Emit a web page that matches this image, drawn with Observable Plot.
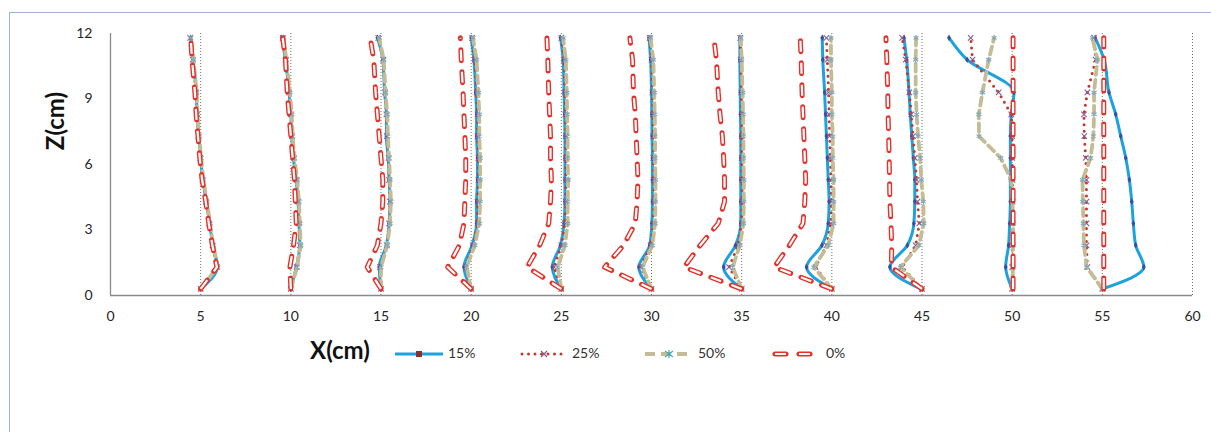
<!DOCTYPE html>
<html><head><meta charset="utf-8">
<script src="https://cdn.jsdelivr.net/npm/d3@7"></script>
<script src="https://cdn.jsdelivr.net/npm/@observablehq/plot@0.6"></script>
<style>
html,body{margin:0;padding:0;background:#fff;overflow:hidden;}
#wrap{position:relative;width:1211px;height:432px;font-family:Lato,"Open Sans",sans-serif;overflow:hidden;}
#frame{position:absolute;left:9px;top:12px;width:1300px;height:500px;border:1px solid #9db3cf;box-sizing:border-box;}
#chart{position:absolute;left:0;top:0;}
#legend{position:absolute;left:0;top:0;pointer-events:none;}
</style></head><body>
<div id="wrap"><div id="frame"></div><div id="chart"></div><svg id="legend" width="1211" height="432"></svg></div>
<script>
// ---- data ----
const zLevels = [0.3, 1.3, 2.3, 3.3, 4.3, 5.3, 6.3, 7.3, 8.3, 9.3, 10.8, 11.8];
const stations = [5, 10, 15, 20, 25, 30, 35, 40, 45, 50, 55];
const xTicks = [0, 5, 10, 15, 20, 25, 30, 35, 40, 45, 50, 55, 60];
const yTicks = [0, 3, 6, 9, 12];
const gridX = [5, 10, 15, 20, 25, 30, 35, 40, 45, 50, 55, 60];
const seriesNames = ["15%", "25%", "50%", "0%"];

// X position of each profile point (one row per station, bottom to top)
const p15 = [
  [5.0, 5.92, 5.68, 5.49, 5.32, 5.12, 5.0, 4.9, 4.8, 4.76, 4.58, 4.44],
  [10.0, 10.3, 10.5, 10.45, 10.4, 10.3, 10.14, 10.05, 10.0, 9.9, 9.7, 9.5],
  [15.0, 14.9, 15.3, 15.45, 15.5, 15.45, 15.4, 15.3, 15.3, 15.2, 15.1, 14.8],
  [20.0, 19.6, 20.05, 20.3, 20.3, 20.35, 20.35, 20.3, 20.3, 20.25, 20.15, 20.0],
  [25.0, 24.5, 24.95, 25.15, 25.2, 25.2, 25.2, 25.2, 25.18, 25.15, 25.1, 24.95],
  [30.0, 29.3, 29.9, 30.02, 30.05, 30.05, 30.05, 30.03, 30.02, 30.0, 29.95, 29.86],
  [35.0, 34.0, 34.66, 34.95, 34.95, 34.95, 34.95, 34.95, 34.93, 34.92, 34.9, 34.9],
  [40.0, 38.6, 39.45, 39.8, 39.85, 39.8, 39.75, 39.7, 39.65, 39.6, 39.5, 39.47],
  [44.93, 43.22, 44.19, 44.55, 44.6, 44.6, 44.52, 44.43, 44.35, 44.28, 44.15, 44.0],
  [50.0, 49.64, 49.8, 49.86, 49.9, 49.9, 49.9, 49.9, 49.95, 50.1, 47.5, 46.5],
  [55.0, 57.3, 56.85, 56.72, 56.63, 56.5, 56.3, 56.02, 55.74, 55.37, 55.1, 54.6]
];
const p25 = [
  [5.0, 5.9, 5.66, 5.48, 5.3, 5.1, 4.98, 4.88, 4.8, 4.74, 4.56, 4.42],
  [10.0, 10.32, 10.5, 10.45, 10.42, 10.32, 10.16, 10.06, 10.0, 9.9, 9.72, 9.55],
  [15.0, 14.95, 15.32, 15.45, 15.5, 15.45, 15.42, 15.32, 15.3, 15.22, 15.12, 14.85],
  [20.0, 19.7, 20.1, 20.35, 20.35, 20.4, 20.4, 20.35, 20.35, 20.3, 20.2, 20.05],
  [25.0, 24.6, 25.0, 25.2, 25.25, 25.25, 25.25, 25.25, 25.22, 25.2, 25.15, 25.0],
  [30.0, 29.4, 29.95, 30.1, 30.12, 30.12, 30.1, 30.1, 30.08, 30.05, 30.0, 29.9],
  [35.0, 34.3, 34.8, 35.0, 35.02, 35.02, 35.0, 35.0, 35.0, 34.98, 34.95, 34.92],
  [40.0, 39.1, 39.7, 39.95, 39.98, 39.95, 39.92, 39.88, 39.85, 39.82, 39.75, 39.7],
  [45.0, 43.9, 44.65, 44.85, 44.75, 44.7, 44.6, 44.5, 44.4, 44.3, 44.1, 43.9],
  [50.0, 50.0, 50.0, 50.02, 50.02, 50.02, 50.0, 50.0, 49.95, 49.25, 47.8, 47.7],
  [55.0, 54.17, 54.12, 54.12, 54.12, 54.12, 54.08, 54.0, 53.98, 54.17, 54.63, 54.54]
];
const p50 = [
  [5.0, 5.95, 5.7, 5.52, 5.35, 5.15, 5.02, 4.92, 4.82, 4.78, 4.6, 4.45],
  [10.0, 10.35, 10.55, 10.5, 10.45, 10.35, 10.2, 10.1, 10.05, 9.95, 9.75, 9.6],
  [15.0, 15.0, 15.35, 15.5, 15.55, 15.5, 15.45, 15.38, 15.35, 15.25, 15.15, 14.9],
  [20.0, 19.75, 20.2, 20.45, 20.5, 20.5, 20.5, 20.45, 20.45, 20.4, 20.3, 20.1],
  [25.0, 24.8, 25.2, 25.35, 25.35, 25.38, 25.35, 25.35, 25.32, 25.3, 25.25, 25.1],
  [30.0, 29.5, 30.05, 30.2, 30.22, 30.22, 30.2, 30.2, 30.18, 30.15, 30.1, 29.95],
  [35.0, 34.5, 34.9, 35.1, 35.12, 35.12, 35.1, 35.1, 35.08, 35.05, 35.0, 34.95],
  [40.0, 39.0, 39.8, 40.1, 40.1, 40.1, 40.05, 40.05, 40.0, 40.0, 39.95, 39.95],
  [45.0, 43.8, 44.83, 45.1, 45.07, 44.96, 44.9, 44.78, 44.7, 44.65, 44.65, 44.67],
  [50.0, 50.05, 50.05, 50.05, 50.02, 49.95, 49.36, 48.16, 48.15, 48.35, 48.7, 49.0],
  [55.0, 54.13, 53.98, 53.95, 53.92, 53.9, 54.35, 54.5, 54.54, 54.54, 54.73, 54.45]
];
const p0 = [
  [5.0, 5.9, 5.65, 5.45, 5.28, 5.08, 4.95, 4.85, 4.75, 4.68, 4.52, 4.45],
  [10.0, 9.95, 10.15, 10.3, 10.25, 10.2, 10.1, 10.0, 9.9, 9.8, 9.7, 9.55],
  [15.0, 14.24, 14.8, 15.0, 15.1, 15.1, 15.0, 14.9, 14.8, 14.7, 14.6, 14.4],
  [20.0, 18.7, 19.35, 19.6, 19.65, 19.7, 19.7, 19.65, 19.6, 19.55, 19.45, 19.4],
  [25.0, 23.1, 23.8, 24.3, 24.4, 24.45, 24.4, 24.4, 24.35, 24.3, 24.25, 24.2],
  [30.0, 27.4, 28.45, 29.1, 29.2, 29.25, 29.2, 29.15, 29.1, 29.0, 28.95, 28.8],
  [35.0, 31.8, 32.7, 33.7, 34.05, 34.05, 34.0, 33.93, 33.8, 33.7, 33.6, 33.46],
  [40.0, 36.8, 37.65, 38.4, 38.5, 38.55, 38.5, 38.45, 38.4, 38.35, 38.3, 38.25],
  [45.0, 43.3, 43.32, 43.28, 43.22, 43.2, 43.18, 43.15, 43.12, 43.1, 43.05, 43.0],
  [50.05, 50.05, 50.05, 50.05, 50.05, 50.05, 50.05, 50.05, 50.05, 50.05, 50.05, 50.05],
  [55.08, 55.08, 55.08, 55.08, 55.08, 55.08, 55.08, 55.08, 55.08, 55.08, 55.08, 55.08]
];
const seriesValues = [p15, p25, p50, p0];

// ---- build table ----
const rows = [];
seriesNames.forEach((name, si) => {
  seriesValues[si].forEach((vals, k) => {
    vals.forEach((x, i) => rows.push({series: name, station: stations[k], x, z: zLevels[i]}));
  });
});
const of = (s) => rows.filter(d => d.series === s);

const FONT = 'Lato, "Open Sans", sans-serif';
const chart = Plot.plot({
  width: 1211, height: 432,
  marginLeft: 110, marginRight: 19, marginTop: 33, marginBottom: 137,
  style: {fontFamily: FONT, fontSize: "14px", color: "#262626", background: "transparent"},
  x: {domain: [0, 60], ticks: xTicks, tickSize: 0, tickPadding: 16, label: null},
  y: {domain: [0, 12], ticks: yTicks, tickSize: 0, tickPadding: 18, label: null},
  marks: [
    Plot.ruleX(gridX, {stroke: "#707070", strokeDasharray: "1,2", strokeWidth: 1}),
    Plot.ruleX([0], {stroke: "#8a8a8a", strokeWidth: 1.3}),
    Plot.ruleY([0], {stroke: "#8a8a8a", strokeWidth: 1.3}),
    // 15%
    Plot.line(of("15%"), {x: "x", y: "z", z: "station", stroke: "#1ea2de", strokeWidth: 3, curve: "monotone-y"}),
    Plot.dot(of("15%"), {x: "x", y: "z", symbol: "diamond", r: 2, fill: "#3b4f9a"}),
    // 25%
    Plot.line(of("25%"), {x: "x", y: "z", z: "station", stroke: "#c0392b", strokeWidth: 3, strokeDasharray: "0,6.5", strokeLinecap: "round"}),
    Plot.dot(of("25%"), {x: "x", y: "z", symbol: "times", r: 2.6, stroke: "#8a5a8e", strokeWidth: 1.1}),
    // 50%
    Plot.line(of("50%"), {x: "x", y: "z", z: "station", stroke: "#c4bc96", strokeWidth: 3.8, strokeDasharray: "8,5"}),
    Plot.dot(of("50%"), {x: "x", y: "z", symbol: "asterisk", r: 2.8, stroke: "#7fa9b8", strokeWidth: 1.1}),
    // 0%
    Plot.line(of("0%"), {x: "x", y: "z", z: "station", stroke: "#e4322b", strokeWidth: 5, strokeDasharray: "11,11", strokeLinecap: "round"}),
    Plot.line(of("0%"), {x: "x", y: "z", z: "station", stroke: "#ffffff", strokeWidth: 2.2, strokeDasharray: "11,11", strokeLinecap: "butt"})
  ]
});
document.getElementById("chart").appendChild(chart);

// ---- titles & legend ----
const L = d3.select("#legend");
L.append("text").attr("transform", "translate(58,121) rotate(-90)")
  .attr("text-anchor", "middle").attr("dominant-baseline", "middle")
  .style("font", `bold 24px ${FONT}`).attr("fill", "#111").text("Z(cm)");
L.append("text").attr("x", 340).attr("y", 353)
  .attr("text-anchor", "middle").attr("dominant-baseline", "middle")
  .style("font", `bold 24px ${FONT}`).attr("fill", "#111").text("X(cm)");

const ly = 354;
const items = [
  {name: seriesNames[0], x0: 395, x1: 443, tx: 448},
  {name: seriesNames[1], x0: 522, x1: 566, tx: 572},
  {name: seriesNames[2], x0: 645, x1: 693, tx: 698},
  {name: seriesNames[3], x0: 775, x1: 810, tx: 826}
];
// 15%
L.append("line").attr("x1", items[0].x0).attr("x2", items[0].x1).attr("y1", ly).attr("y2", ly)
  .attr("stroke", "#1ea2de").attr("stroke-width", 3);
L.append("rect").attr("x", 416).attr("y", ly - 3).attr("width", 6).attr("height", 6).attr("fill", "#8b2f2f");
// 25%
L.append("line").attr("x1", items[1].x0).attr("x2", items[1].x1).attr("y1", ly).attr("y2", ly)
  .attr("stroke", "#c0392b").attr("stroke-width", 3).attr("stroke-dasharray", "0,6.5").attr("stroke-linecap", "round");
L.append("path").attr("d", `M${541},${ly-3}L${547},${ly+3}M${541},${ly+3}L${547},${ly-3}`)
  .attr("stroke", "#8a5a8e").attr("stroke-width", 1.2);
// 50%
L.append("line").attr("x1", items[2].x0).attr("x2", items[2].x1).attr("y1", ly).attr("y2", ly)
  .attr("stroke", "#c4bc96").attr("stroke-width", 3.8).attr("stroke-dasharray", "10,6");
L.append("path").attr("d", `M${665},${ly-3}L${673},${ly+3}M${665},${ly+3}L${673},${ly-3}M${669},${ly-4}L${669},${ly+4}`)
  .attr("stroke", "#4aa7b9").attr("stroke-width", 1.2);
// 0%
L.append("line").attr("x1", items[3].x0).attr("x2", items[3].x1).attr("y1", ly).attr("y2", ly)
  .attr("stroke", "#e4322b").attr("stroke-width", 5).attr("stroke-dasharray", "11,13").attr("stroke-linecap", "round");
L.append("line").attr("x1", items[3].x0).attr("x2", items[3].x1).attr("y1", ly).attr("y2", ly)
  .attr("stroke", "#fff").attr("stroke-width", 2.2).attr("stroke-dasharray", "11,13");
items.forEach(it => {
  L.append("text").attr("x", it.tx).attr("y", ly).attr("dominant-baseline", "middle")
    .style("font", `14px ${FONT}`).attr("fill", "#333").text(it.name);
});
</script>
</body></html>
